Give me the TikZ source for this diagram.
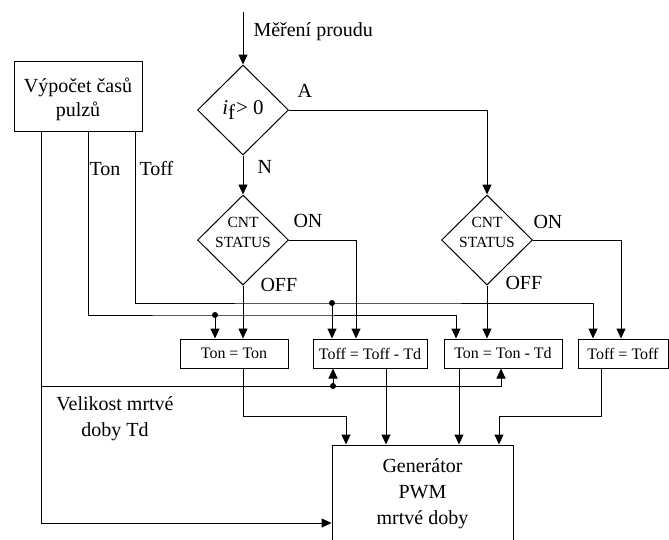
\documentclass[tikz,border=0pt]{standalone}
\usepackage{fontspec}
\setmainfont{Liberation Serif}
\usetikzlibrary{shapes.geometric,arrows.meta}

\begin{document}
\begin{tikzpicture}[x=1pt,y=-1pt,
  line width=1pt,
  arr/.style={-{Triangle[length=10pt,width=9pt]}},
  thinline/.style={line width=0.6pt},
  bigtxt/.style={font=\fontsize{20}{26}\selectfont, inner sep=0pt, align=center},
  lbl/.style={font=\fontsize{20}{26}\selectfont, inner sep=0pt},
  decision/.style={draw, diamond, aspect=1, minimum width=91pt, minimum height=90pt, inner sep=0pt},
  cnttxt/.style={font=\fontsize{15.5}{20}\selectfont, inner sep=0pt, align=center},
  calcbox/.style={draw, rectangle, minimum width=128pt, minimum height=70pt, inner sep=0pt},
  assign/.style={draw, rectangle, minimum height=29pt, inner sep=0pt, font=\fontsize{16}{20}\selectfont},
  genbox/.style={draw, rectangle, minimum width=181pt, minimum height=156pt, inner sep=0pt},
  junction/.style={circle, fill, inner sep=0pt, minimum size=6pt}
]
\useasboundingbox (0,0) rectangle (669,539);
\clip (0,0) rectangle (669,539);

% blocks
\node[calcbox] (calc) at (78,96) {};
\node[bigtxt, font=\fontsize{20}{24}\selectfont] (calctxt) at (78,99) {Výpočet časů\\pulzů};

\coordinate (meas) at (243,12);
\node[decision, font=\fontsize{21}{24}\selectfont] (d1) at (243,110) {\textit{i}\raisebox{-0.45ex}{f}\kern1pt> 0};
\node[decision] (d2) at (243,240) {};
\node[cnttxt] (t2) at (243,232) {CNT\\STATUS};
\node[decision] (d3) at (487,240) {};
\node[cnttxt] (t3) at (487,232) {CNT\\STATUS};

\node[assign, minimum width=108pt] (b1) at (234,353.5) {Ton = Ton};
\node[assign, minimum width=114pt] (b2) at (370,353.5) {Toff = Toff - Td};
\node[assign, minimum width=118pt] (b3) at (503,353.5) {Ton = Ton - Td};
\node[assign, minimum width=90pt] (b4) at (623,353.5) {Toff = Toff};

\node[genbox] (gen) at (422.5,523) {};
\node[bigtxt] (gentxt) at (422.5,494) {Generátor\\PWM\\mrtvé doby};

% labels
\node[lbl, anchor=base west] (lmeas) at (253,36) {Měření proudu};
\node[lbl, anchor=base west] (lA) at (297,97) {A};
\node[lbl, anchor=base west] (lN) at (257,173) {N};
\node[lbl, anchor=base west] (lon2) at (293,227) {ON};
\node[lbl, anchor=base west] (loff2) at (260,291) {OFF};
\node[lbl, anchor=base west] (lon3) at (533,228) {ON};
\node[lbl, anchor=base west] (loff3) at (505,289) {OFF};
\node[lbl, anchor=base west] (lton) at (89,175) {Ton};
\node[lbl, anchor=base west] (ltoff) at (139,175) {Toff};
\node[bigtxt] (ltd) at (115,419) {Velikost mrtvé\\doby Td};

% junction points
\coordinate (lft) at ([xshift=-37pt]calc.south);
\coordinate (jTon) at (215,315);
\coordinate (jToff) at (332,303);
\coordinate (jTd) at (333,386);
\coordinate (m1) at (346,416);
\coordinate (m4) at (499,416);

% decision flow
\draw[arr] (meas) -- (d1.north);
\draw[arr] (d1.east) -| (d3.north);
\draw[arr, thinline] (d1.south) -- (d2.north);
\draw[arr] (d2.east) -| ([xshift=-14pt]b2.north);
\draw[arr, thinline] (d2.south) -- ([xshift=9pt]b1.north);
\draw[arr] (d3.east) -| ([xshift=-2pt]b4.north);
\draw[arr, thinline] (d3.south) -- ([xshift=-16pt]b3.north);

% pulse times
\draw[arr] ([xshift=10pt]calc.south) |- (jTon) -| ([xshift=-47pt]b3.north);
\draw[arr] (jTon) -- ([xshift=-19pt]b1.north);
\draw[arr] ([xshift=57pt]calc.south) |- (jToff) -| ([xshift=-30pt]b4.north);
\draw[arr] (jToff) -- ([xshift=-38pt]b2.north);

% dead time
\draw[arr] (lft) |- (gen.west);
\draw[arr] (lft |- jTd) -| ([xshift=-2pt]b3.south);
\draw[arr] (jTd) -- ([xshift=-37pt]b2.south);

% outputs to generator
\draw[arr] ([xshift=9pt]b1.south) |- (m1) -- ([xshift=-76.5pt]gen.north);
\draw[arr] ([xshift=16pt]b2.south) -- ([xshift=-36.5pt]gen.north);
\draw[arr] ([xshift=-44pt]b3.south) -- ([xshift=36.5pt]gen.north);
\draw[arr] ([xshift=-22pt]b4.south) |- (m4) -- ([xshift=76.5pt]gen.north);

\node[junction] (dTon) at (jTon) {};
\node[junction] (dToff) at (jToff) {};
\node[junction] (dTd) at (jTd) {};
\end{tikzpicture}
\end{document}
